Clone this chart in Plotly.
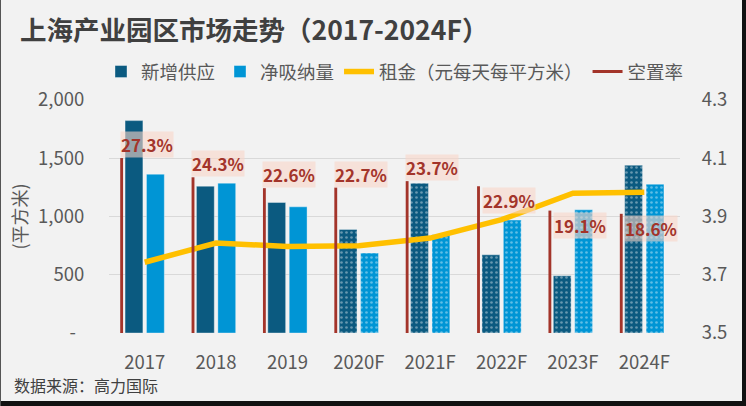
import plotly.graph_objects as go

# ---------------- data ----------------
categories = ["2017", "2018", "2019", "2020F", "2021F", "2022F", "2023F", "2024F"]
new_supply = [1823, 1260, 1120, 889, 1286, 671, 491, 1440]          # 新增供应 (平方米)
net_absorption = [1363, 1286, 1083, 686, 843, 969, 1057, 1277]       # 净吸纳量 (平方米)
rent = [3.743, 3.809, 3.797, 3.800, 3.826, 3.889, 3.980, 3.983]     # 租金 (元/天/平方米)
vacancy = [0.273, 0.243, 0.226, 0.227, 0.237, 0.229, 0.191, 0.186]  # 空置率
forecast = [False, False, False, True, True, True, True, True]
left_ticks = [0, 500, 1000, 1500, 2000]
left_ticktext = ["-\u00a0\u00a0", "500", "1,000", "1,500", "2,000"]
right_ticks = [3.5, 3.7, 3.9, 4.1, 4.3]
label_above = [True, True, True, True, True, False, False, False]

# ---------------- style ----------------
C_SUPPLY = "#0b5a80"
C_ABSORB = "#0095d5"
C_RENT = "#ffc000"
C_VAC = "#a3342a"
FONT = "Noto Sans CJK SC"
TICK_COLOR = "#595959"

xpos = list(range(len(categories)))

pattern_shapes = ["." if f else "" for f in forecast]
pat = dict(shape=pattern_shapes, fgcolor="rgba(255,255,255,0.75)", size=5, solidity=0.22)

fig = go.Figure()

fig.add_trace(go.Bar(
    x=xpos, y=new_supply, name="新增供应",
    marker=dict(color=C_SUPPLY, pattern=pat, line=dict(width=0.6, color="rgba(255,255,255,0.6)")),
    offset=-0.275, width=0.25, yaxis="y",
))
fig.add_trace(go.Bar(
    x=xpos, y=net_absorption, name="净吸纳量",
    marker=dict(color=C_ABSORB, pattern=pat, line=dict(width=0.6, color="rgba(255,255,255,0.6)")),
    offset=0.025, width=0.25, yaxis="y",
))
fig.add_trace(go.Scatter(
    x=xpos, y=rent, name="租金（元每天每平方米）",
    mode="lines", line=dict(color=C_RENT, width=5.5), yaxis="y2",
))
fig.add_trace(go.Bar(
    x=xpos, y=vacancy, name="空置率", showlegend=False,
    marker=dict(color=C_VAC, line=dict(width=0)),
    offset=-0.343, width=0.04, yaxis="y3",
))
# legend proxy for vacancy (shown as a line, as in the original)
fig.add_trace(go.Scatter(
    x=[None], y=[None], name="空置率", mode="lines",
    line=dict(color=C_VAC, width=3), yaxis="y3",
))

# vacancy labels
for xi, v, above in zip(xpos, vacancy, label_above):
    fig.add_annotation(
        x=xi, y=v, xref="x", yref="y3",
        text=f"<b>{v*100:.1f}%</b>", showarrow=False,
        xanchor="left", yanchor="bottom" if above else "top",
        xshift=-25 if above else -20, yshift=0 if above else -1,
        font=dict(family=FONT, size=17, color=C_VAC),
        bgcolor="rgba(248,214,200,0.6)", borderpad=0,
    )

W, H = 746, 406
ML, MR, MT, MB = 109, 66, 100, 73
PW, PH = W - ML - MR, H - MT - MB

def px_x(p):
    return (p - ML) / PW
def px_y(p):
    return 1 - (p - MT) / PH

# y-axis title
fig.add_annotation(
    x=px_x(18), y=0.5, xref="paper", yref="paper",
    text="(平方米)", textangle=-90, showarrow=False,
    xanchor="center", yanchor="middle",
    font=dict(family=FONT, size=18, color=TICK_COLOR),
)
# source
fig.add_annotation(
    x=px_x(12), y=px_y(385), xref="paper", yref="paper",
    text="数据来源：高力国际", showarrow=False, xanchor="left", yanchor="middle",
    font=dict(family=FONT, size=16, color="#404040"),
)

frame = "#111111"
fig.add_shape(type="rect", xref="paper", yref="paper", x0=px_x(742), x1=px_x(746), y0=px_y(406), y1=px_y(0),
              fillcolor=frame, line=dict(width=0), layer="above")
fig.add_shape(type="rect", xref="paper", yref="paper", x0=px_x(0), x1=px_x(746), y0=px_y(406), y1=px_y(401),
              fillcolor=frame, line=dict(width=0), layer="above")
fig.add_shape(type="rect", xref="paper", yref="paper", x0=px_x(0), x1=px_x(1), y0=px_y(406), y1=px_y(0),
              fillcolor="#555555", line=dict(width=0), layer="above")

fig.update_layout(
    width=W, height=H,
    margin=dict(l=ML, r=MR, t=MT, b=MB, pad=0, autoexpand=False),
    paper_bgcolor="#f2f2f2", plot_bgcolor="#f2f2f2",
    barmode="overlay",
    font=dict(family=FONT, color=TICK_COLOR),
    title=dict(
        text="<b>上海产业园区市场走势（2017-2024F）</b>",
        xref="container", yref="container", x=20 / W, y=1 - 31 / H,
        xanchor="left", yanchor="middle",
        font=dict(family=FONT, size=26.5, color="#404040"),
    ),
    legend=dict(
        orientation="h", xref="paper", yref="paper",
        x=px_x(101), y=px_y(72), xanchor="left", yanchor="middle",
        font=dict(family=FONT, size=18.5, color=TICK_COLOR),
        bgcolor="rgba(0,0,0,0)", itemwidth=30, tracegroupgap=0,
    ),
    xaxis=dict(
        range=[-0.5, len(categories) - 0.5], tickvals=xpos, ticktext=categories,
        showgrid=False, zeroline=False, showline=False,
        ticks="outside", ticklen=13, tickcolor="rgba(0,0,0,0)",
        tickfont=dict(family=FONT, size=18.5, color=TICK_COLOR),
    ),
    yaxis=dict(
        range=[0, 2000], tickvals=left_ticks, ticktext=left_ticktext,
        showgrid=True, gridcolor="#d9d9d9", gridwidth=1, zeroline=False,
        ticks="outside", ticklen=20, tickcolor="rgba(0,0,0,0)",
        tickfont=dict(family=FONT, size=18.5, color=TICK_COLOR),
    ),
    yaxis2=dict(
        range=[3.5, 4.3], tickvals=right_ticks, tickformat=".1f",
        overlaying="y", side="right", showgrid=False, zeroline=False,
        ticks="outside", ticklen=17, tickcolor="rgba(0,0,0,0)",
        tickfont=dict(family=FONT, size=18.5, color=TICK_COLOR),
    ),
    yaxis3=dict(
        range=[0, 0.3636], overlaying="y", visible=False,
    ),
)

fig.write_html("out.html")
